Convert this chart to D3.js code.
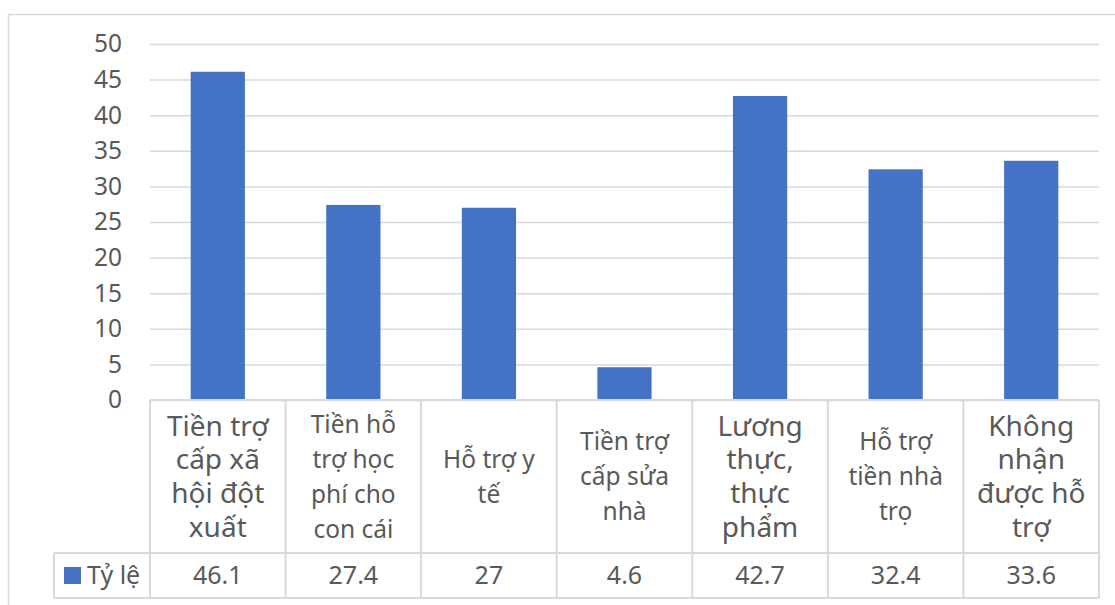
<!DOCTYPE html>
<html>
<head>
<meta charset="utf-8">
<script src="https://cdn.jsdelivr.net/npm/d3@7"></script>
<style>
  html, body { margin: 0; padding: 0; background: #fff; }
  svg { display: block; }
  text { font-family: "Noto Sans", "Open Sans", sans-serif; fill: #595959; }
</style>
</head>
<body>
<svg id="chart" width="1115" height="605"></svg>
<script>
// ---- data ----
const categories = [
  "Tiền trợ cấp xã hội đột xuất",
  "Tiền hỗ trợ học phí cho con cái",
  "Hỗ trợ y tế",
  "Tiền trợ cấp sửa nhà",
  "Lương thực, thực phẩm",
  "Hỗ trợ tiền nhà trọ",
  "Không nhận được hỗ trợ"
];
const categoryLines = [
  ["Tiền trợ", "cấp xã", "hội đột", "xuất"],
  ["Tiền hỗ", "trợ học", "phí cho", "con cái"],
  ["Hỗ trợ y", "tế"],
  ["Tiền trợ", "cấp sửa", "nhà"],
  ["Lương", "thực,", "thực", "phẩm"],
  ["Hỗ trợ", "tiền nhà", "trọ"],
  ["Không", "nhận", "được hỗ", "trợ"]
];
const seriesName = "Tỷ lệ";
const values = [46.1, 27.4, 27, 4.6, 42.7, 32.4, 33.6];
const yTicks = [0, 5, 10, 15, 20, 25, 30, 35, 40, 45, 50];

// ---- layout / style ----
const W = 1115, H = 605;
const plotLeft = 150, plotRight = 1099, plotTop = 44, plotBottom = 400;
const catRowBottom = 553, dataRowBottom = 598, legendLeft = 54;
const gridColor = "#d9d9d9";
const barColor = "#4472C4";
const bigLabels = new Set([0, 4, 6]);

const svg = d3.select("#chart");

// outer chart border
svg.append("path")
  .attr("d", `M8.5,${H} L8.5,14.5 L${W},14.5`)
  .attr("fill", "none").attr("stroke", gridColor).attr("stroke-width", 1.5);

const x = d3.scaleBand().domain(d3.range(categories.length)).range([plotLeft, plotRight]).paddingInner(0).paddingOuter(0);
const y = d3.scaleLinear().domain([0, 50]).range([plotBottom, plotTop]);

// gridlines
const grid = svg.append("g").attr("transform", `translate(${plotLeft},0)`)
  .call(d3.axisLeft(y).tickValues(yTicks).tickSize(-(plotRight - plotLeft)).tickFormat(""));
grid.select(".domain").remove();
grid.selectAll("line").attr("stroke", gridColor).attr("stroke-width", 1.5);

// y tick labels
const yAxis = svg.append("g").attr("transform", `translate(${plotLeft - 28},0)`)
  .call(d3.axisLeft(y).tickValues(yTicks).tickSize(0).tickPadding(0));
yAxis.select(".domain").remove();
yAxis.selectAll("text").attr("font-size", 24.5).attr("fill", "#595959")
  .style("font-family", '"Noto Sans", sans-serif');

// bars
const barW = x.bandwidth() * 0.4;
svg.append("g").selectAll("rect").data(values).join("rect")
  .attr("x", (d, i) => x(i) + (x.bandwidth() - barW) / 2)
  .attr("y", d => y(d))
  .attr("width", barW)
  .attr("height", d => y(0) - y(d))
  .attr("fill", barColor);

// data table lines
const tbl = svg.append("g").attr("stroke", gridColor).attr("stroke-width", 2).attr("fill", "none");
tbl.append("line").attr("x1", plotLeft).attr("x2", plotRight).attr("y1", plotBottom).attr("y2", plotBottom);
tbl.append("line").attr("x1", legendLeft).attr("x2", plotRight).attr("y1", catRowBottom).attr("y2", catRowBottom);
tbl.append("line").attr("x1", legendLeft).attr("x2", plotRight).attr("y1", dataRowBottom).attr("y2", dataRowBottom);
tbl.append("line").attr("x1", legendLeft).attr("x2", legendLeft).attr("y1", catRowBottom).attr("y2", dataRowBottom);
d3.range(categories.length + 1).forEach(i => {
  const xx = i < categories.length ? x(i) : plotRight;
  tbl.append("line").attr("x1", xx).attr("x2", xx).attr("y1", plotBottom).attr("y2", dataRowBottom);
});

// category labels
const catMid = (plotBottom + catRowBottom) / 2;
const catG = svg.append("g");
categoryLines.forEach((lines, i) => {
  const big = bigLabels.has(i);
  const fs = big ? 28 : 24.5;
  const lh = big ? 33.8 : 35;
  const cx = x(i) + x.bandwidth() / 2;
  const t = catG.append("text").attr("text-anchor", "middle").attr("font-size", fs);
  const y0 = catMid - (lines.length - 1) * lh / 2;
  lines.forEach((ln, k) => {
    t.append("tspan").attr("x", cx).attr("y", y0 + k * lh).attr("dy", "0.35em").text(ln);
  });
});

// data row values
const dataMid = (catRowBottom + dataRowBottom) / 2;
svg.append("g").selectAll("text").data(values).join("text")
  .attr("x", (d, i) => x(i) + x.bandwidth() / 2)
  .attr("y", dataMid).attr("dy", "0.35em")
  .attr("text-anchor", "middle").attr("font-size", 25)
  .text(d => d);

// legend key
svg.append("rect").attr("x", 64).attr("y", dataMid - 8.5).attr("width", 17).attr("height", 17).attr("fill", barColor);
svg.append("text").attr("x", 87).attr("y", dataMid).attr("dy", "0.35em").attr("font-size", 25).text(seriesName);
</script>
</body>
</html>
